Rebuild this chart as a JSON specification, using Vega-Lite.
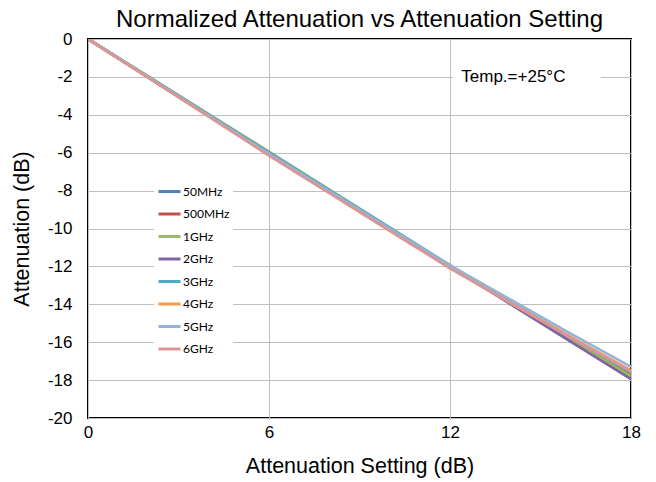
{
  "$schema": "https://vega.github.io/schema/vega-lite/v6.json",
  "width": 543,
  "height": 379,
  "autosize": "none",
  "padding": {"left": 88, "top": 39, "right": 25, "bottom": 64},
  "background": "white",
  "title": {"text": "Normalized Attenuation vs Attenuation Setting", "font": "Liberation Sans", "fontSize": 24, "fontWeight": "normal", "color": "black", "offset": -2},
  "config": {
    "view": {"stroke": "black", "strokeWidth": 2},
    "axis": {"gridColor": "#bfbfbf", "gridWidth": 1, "domain": false, "ticks": false, "labelOverlap": false, "labelFlush": false, "labelFont": "Liberation Sans", "labelFontSize": 17, "labelColor": "black", "titleFont": "Liberation Sans", "titleFontSize": 21.5, "titleFontWeight": "normal", "titleColor": "black"},
    "axisQuantitative": {"labelOverlap": false}
  },
  "datasets": {
    "curves": [
      {"setting": 0, "atten": 0, "freq": "50MHz"}, {"setting": 2, "atten": -2.0, "freq": "50MHz"}, {"setting": 4, "atten": -4.0, "freq": "50MHz"}, {"setting": 6, "atten": -6.0, "freq": "50MHz"}, {"setting": 8, "atten": -7.98, "freq": "50MHz"}, {"setting": 10, "atten": -9.96, "freq": "50MHz"}, {"setting": 12, "atten": -11.95, "freq": "50MHz"}, {"setting": 14, "atten": -13.9, "freq": "50MHz"}, {"setting": 16, "atten": -15.83, "freq": "50MHz"}, {"setting": 18, "atten": -17.75, "freq": "50MHz"},
      {"setting": 0, "atten": 0, "freq": "500MHz"}, {"setting": 2, "atten": -2.02, "freq": "500MHz"}, {"setting": 4, "atten": -4.03, "freq": "500MHz"}, {"setting": 6, "atten": -6.05, "freq": "500MHz"}, {"setting": 8, "atten": -8.04, "freq": "500MHz"}, {"setting": 10, "atten": -10.02, "freq": "500MHz"}, {"setting": 12, "atten": -12.0, "freq": "500MHz"}, {"setting": 14, "atten": -13.94, "freq": "500MHz"}, {"setting": 16, "atten": -15.84, "freq": "500MHz"}, {"setting": 18, "atten": -17.7, "freq": "500MHz"},
      {"setting": 0, "atten": 0, "freq": "1GHz"}, {"setting": 2, "atten": -1.98, "freq": "1GHz"}, {"setting": 4, "atten": -3.97, "freq": "1GHz"}, {"setting": 6, "atten": -5.95, "freq": "1GHz"}, {"setting": 8, "atten": -7.95, "freq": "1GHz"}, {"setting": 10, "atten": -9.95, "freq": "1GHz"}, {"setting": 12, "atten": -11.95, "freq": "1GHz"}, {"setting": 14, "atten": -13.92, "freq": "1GHz"}, {"setting": 16, "atten": -15.87, "freq": "1GHz"}, {"setting": 18, "atten": -17.8, "freq": "1GHz"},
      {"setting": 0, "atten": 0, "freq": "2GHz"}, {"setting": 2, "atten": -2.0, "freq": "2GHz"}, {"setting": 4, "atten": -4.0, "freq": "2GHz"}, {"setting": 6, "atten": -6.0, "freq": "2GHz"}, {"setting": 8, "atten": -8.0, "freq": "2GHz"}, {"setting": 10, "atten": -10.0, "freq": "2GHz"}, {"setting": 12, "atten": -12.0, "freq": "2GHz"}, {"setting": 14, "atten": -13.99, "freq": "2GHz"}, {"setting": 16, "atten": -15.97, "freq": "2GHz"}, {"setting": 18, "atten": -17.95, "freq": "2GHz"},
      {"setting": 0, "atten": 0, "freq": "3GHz"}, {"setting": 2, "atten": -2.0, "freq": "3GHz"}, {"setting": 4, "atten": -4.0, "freq": "3GHz"}, {"setting": 6, "atten": -6.0, "freq": "3GHz"}, {"setting": 8, "atten": -7.98, "freq": "3GHz"}, {"setting": 10, "atten": -9.96, "freq": "3GHz"}, {"setting": 12, "atten": -11.95, "freq": "3GHz"}, {"setting": 14, "atten": -13.87, "freq": "3GHz"}, {"setting": 16, "atten": -15.75, "freq": "3GHz"}, {"setting": 18, "atten": -17.6, "freq": "3GHz"},
      {"setting": 0, "atten": 0, "freq": "4GHz"}, {"setting": 2, "atten": -2.03, "freq": "4GHz"}, {"setting": 4, "atten": -4.07, "freq": "4GHz"}, {"setting": 6, "atten": -6.1, "freq": "4GHz"}, {"setting": 8, "atten": -8.1, "freq": "4GHz"}, {"setting": 10, "atten": -10.1, "freq": "4GHz"}, {"setting": 12, "atten": -12.08, "freq": "4GHz"}, {"setting": 14, "atten": -13.9, "freq": "4GHz"}, {"setting": 16, "atten": -15.72, "freq": "4GHz"}, {"setting": 18, "atten": -17.5, "freq": "4GHz"},
      {"setting": 0, "atten": 0, "freq": "5GHz"}, {"setting": 2, "atten": -2.02, "freq": "5GHz"}, {"setting": 4, "atten": -4.03, "freq": "5GHz"}, {"setting": 6, "atten": -6.05, "freq": "5GHz"}, {"setting": 8, "atten": -8.03, "freq": "5GHz"}, {"setting": 10, "atten": -10.0, "freq": "5GHz"}, {"setting": 12, "atten": -11.95, "freq": "5GHz"}, {"setting": 14, "atten": -13.75, "freq": "5GHz"}, {"setting": 16, "atten": -15.55, "freq": "5GHz"}, {"setting": 18, "atten": -17.3, "freq": "5GHz"},
      {"setting": 0, "atten": 0, "freq": "6GHz"}, {"setting": 2, "atten": -2.05, "freq": "6GHz"}, {"setting": 4, "atten": -4.1, "freq": "6GHz"}, {"setting": 6, "atten": -6.15, "freq": "6GHz"}, {"setting": 8, "atten": -8.13, "freq": "6GHz"}, {"setting": 10, "atten": -10.12, "freq": "6GHz"}, {"setting": 12, "atten": -12.1, "freq": "6GHz"}, {"setting": 14, "atten": -13.93, "freq": "6GHz"}, {"setting": 16, "atten": -15.75, "freq": "6GHz"}, {"setting": 18, "atten": -17.55, "freq": "6GHz"}
    ],
    "note": [
      {"setting": 12.1, "setting2": 17.0, "atten": -1.35, "atten2": -2.65, "xt": 14.1, "yt": -2, "label": "Temp.=+25°C"}
    ]
  },
  "layer": [
    {
      "data": {"name": "curves"},
      "mark": {"type": "line", "strokeWidth": 2.75, "clip": true},
      "encoding": {
        "x": {"field": "setting", "type": "quantitative", "title": "Attenuation Setting (dB)", "scale": {"domain": [0, 18], "nice": false}, "axis": {"values": [0, 6, 12, 18], "labelOverlap": false, "labelFlush": false, "labelPadding": 6, "titlePadding": 15, "labelExpr": "'' + datum.value"}},
        "y": {"field": "atten", "type": "quantitative", "title": "Attenuation (dB)", "scale": {"domain": [-20, 0], "nice": false}, "axis": {"values": [-20, -18, -16, -14, -12, -10, -8, -6, -4, -2, 0], "labelOverlap": false, "labelPadding": 16, "titlePadding": 14, "labelExpr": "'' + datum.value"}},
        "color": {
          "field": "freq", "type": "nominal",
          "scale": {"domain": ["50MHz", "500MHz", "1GHz", "2GHz", "3GHz", "4GHz", "5GHz", "6GHz"], "range": ["#4F81BD", "#C0504D", "#9BBB59", "#8064A2", "#4BACC6", "#F79646", "#95B3D7", "#D99694"]},
          "legend": {"title": null, "orient": "none", "legendX": 66, "legendY": 137, "fillColor": "white", "padding": 3, "symbolType": "stroke", "symbolSize": 484, "symbolStrokeWidth": 3, "labelFont": "Lato", "labelFontSize": 12, "labelColor": "black", "labelOffset": 1, "rowPadding": 3.5}
        }
      }
    },
    {
      "data": {"name": "note"},
      "mark": {"type": "rect", "fill": "white"},
      "encoding": {
        "x": {"field": "setting", "type": "quantitative", "title": "Attenuation Setting (dB)", "scale": {"domain": [0, 18], "nice": false}, "axis": {"values": [0, 6, 12, 18], "labelOverlap": false, "labelFlush": false, "labelPadding": 6, "titlePadding": 15, "labelExpr": "'' + datum.value"}},
        "x2": {"field": "setting2"},
        "y": {"field": "atten", "type": "quantitative", "title": "Attenuation (dB)", "scale": {"domain": [-20, 0], "nice": false}, "axis": {"values": [-20, -18, -16, -14, -12, -10, -8, -6, -4, -2, 0], "labelOverlap": false, "labelPadding": 16, "titlePadding": 14, "labelExpr": "'' + datum.value"}},
        "y2": {"field": "atten2"}
      }
    },
    {
      "data": {"name": "note"},
      "mark": {"type": "text", "font": "Liberation Sans", "fontSize": 17, "color": "black", "align": "center", "baseline": "middle"},
      "encoding": {
        "x": {"field": "xt", "type": "quantitative", "title": "Attenuation Setting (dB)", "scale": {"domain": [0, 18], "nice": false}, "axis": {"values": [0, 6, 12, 18], "labelOverlap": false, "labelFlush": false, "labelPadding": 6, "titlePadding": 15, "labelExpr": "'' + datum.value"}},
        "y": {"field": "yt", "type": "quantitative", "title": "Attenuation (dB)", "scale": {"domain": [-20, 0], "nice": false}, "axis": {"values": [-20, -18, -16, -14, -12, -10, -8, -6, -4, -2, 0], "labelOverlap": false, "labelPadding": 16, "titlePadding": 14, "labelExpr": "'' + datum.value"}},
        "text": {"field": "label"}
      }
    }
  ]
}
